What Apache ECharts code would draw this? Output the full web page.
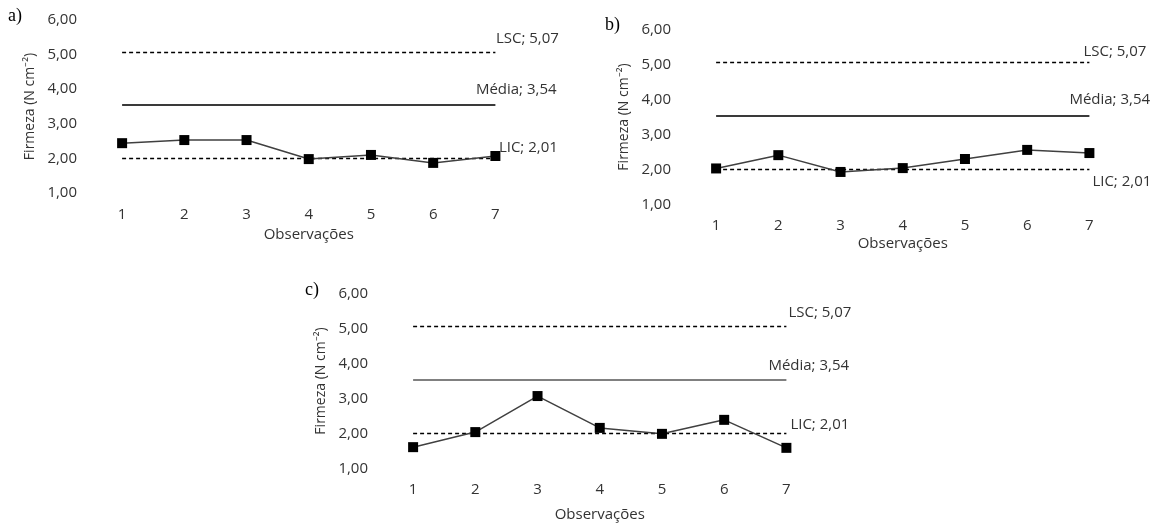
<!DOCTYPE html>
<html>
<head>
<meta charset="utf-8">
<script src="https://cdn.jsdelivr.net/npm/echarts@6/dist/echarts.min.js"></script>
<style>
html,body{margin:0;padding:0;background:#fff;}
#chart{width:1157px;height:524px;}
</style>
</head>
<body>
<div id="chart"></div>
<script>
const categories = ['1', '2', '3', '4', '5', '6', '7'];
const firmezaA = [2.44, 2.53, 2.53, 1.98, 2.10, 1.87, 2.07];
const firmezaB = [2.03, 2.41, 1.93, 2.04, 2.30, 2.56, 2.47];
const firmezaC = [1.61, 2.04, 3.07, 2.16, 1.99, 2.39, 1.59];
const limitNames = ['LSC', 'Média', 'LIC'];
const limitValues = [5.07, 3.54, 2.01];
const panelLetters = ['a)', 'b)', 'c)'];
const xTitle = 'Observações';
const yTitle = 'Firmeza (N cm⁻²)';

const FONT = '"Open Sans", "Liberation Sans", sans-serif';
const TXT = '#333333';
const fmt = v => v.toFixed(2).replace('.', ',');

const panels = [
  { data: firmezaA, grid: { left: 91, top: 20, width: 435.5, height: 173 }, xGap: 34, mediaColor: '#3a3a3a',
    lblOff: [[0.5, -13], [-19.5, -15], [3.5, -10]], letter: [8, 16] },
  { data: firmezaB, grid: { left: 685, top: 29.5, width: 435.5, height: 175 }, xGap: 32, mediaColor: '#3a3a3a',
    lblOff: [[-6, -10.5], [-20, -16], [3, 13]], letter: [605, 25] },
  { data: firmezaC, grid: { left: 382, top: 293.5, width: 435.5, height: 175 }, xGap: 39, mediaColor: '#808080',
    lblOff: [[2, -13], [-18, -14], [4, -8]], letter: [305, 290] }
];

const option = {
  animation: false,
  backgroundColor: '#fff',
  textStyle: { fontFamily: FONT },
  grid: panels.map(p => Object.assign({ containLabel: false }, p.grid)),
  xAxis: panels.map((p, i) => ({
    type: 'category', gridIndex: i, data: categories, boundaryGap: true,
    axisLine: { show: false }, axisTick: { show: false }, splitLine: { show: false },
    axisLabel: { color: TXT, fontSize: 15, fontFamily: FONT, margin: 14 },
    name: xTitle, nameLocation: 'middle', nameGap: p.xGap,
    nameTextStyle: { color: TXT, fontSize: 15, fontFamily: FONT }
  })),
  yAxis: panels.map((p, i) => ({
    type: 'value', gridIndex: i, min: 1, max: 6, interval: 1,
    axisLine: { show: false }, axisTick: { show: false }, splitLine: { show: false },
    axisLabel: { color: TXT, fontSize: 15, fontFamily: FONT, margin: 14, formatter: fmt },
    name: yTitle, nameLocation: 'middle', nameRotate: 90, nameGap: 54,
    nameTextStyle: { color: TXT, fontSize: 14, fontFamily: FONT }
  })),
  series: panels.map((p, i) => ({
    type: 'line', xAxisIndex: i, yAxisIndex: i, data: p.data,
    symbol: 'rect', symbolSize: 10, z: 5,
    lineStyle: { color: '#404040', width: 1.5 },
    itemStyle: { color: '#000' },
    markLine: {
      silent: true, symbol: 'none', animation: false, z: 2,
      label: { show: false },
      data: limitValues.map((v, k) => [
        { coord: [0, v], lineStyle: k === 1
            ? { color: p.mediaColor, width: 2, type: 'solid' }
            : { color: '#000', width: 1.3, type: [4, 3] } },
        { coord: [categories.length - 1, v] }
      ])
    }
  }))
};

const chart = echarts.init(document.getElementById('chart'), null, { renderer: 'canvas' });
chart.setOption(option);

const graphics = [];
panels.forEach((p, i) => {
  limitValues.forEach((v, k) => {
    const pt = chart.convertToPixel({ gridIndex: i }, [categories.length - 1, v]);
    graphics.push({
      type: 'text', x: pt[0] + p.lblOff[k][0], y: pt[1] + p.lblOff[k][1], z: 10,
      style: { text: limitNames[k] + '; ' + fmt(v), fill: TXT, fontSize: 15, fontFamily: FONT,
               align: 'left', verticalAlign: 'middle' }
    });
  });
  graphics.push({
    type: 'text', x: p.letter[0], y: p.letter[1], z: 10,
    style: { text: panelLetters[i], fill: '#000', fontSize: 18,
             fontFamily: '"Liberation Serif", "DejaVu Serif", serif', align: 'left', verticalAlign: 'middle' }
  });
});
chart.setOption({ graphic: graphics });
</script>
</body>
</html>
